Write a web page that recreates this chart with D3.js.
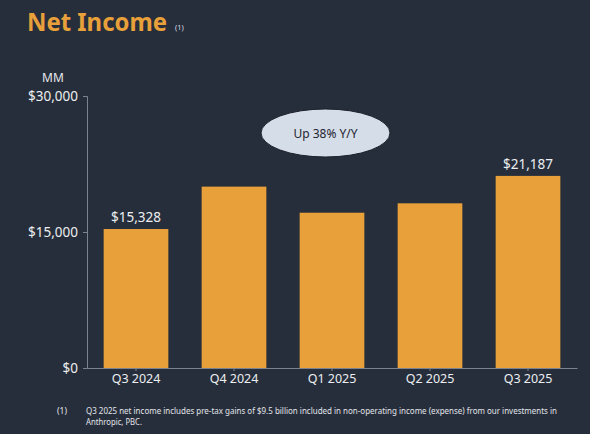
<!DOCTYPE html>
<html><head><meta charset="utf-8">
<script src="https://cdn.jsdelivr.net/npm/d3@7"></script>
<style>html,body{margin:0;padding:0;background:#272e3b;}svg{display:block;}</style>
</head><body>
<script>
const categories = ["Q3 2024","Q4 2024","Q1 2025","Q2 2025","Q3 2025"];
const values = [15328, 20004, 17127, 18164, 21187];
const labeled = [true, false, false, false, true];
const yTicks = [0, 15000, 30000];

const W = 590, H = 434;
const svg = d3.select("body").append("svg").attr("width", W).attr("height", H);
svg.append("rect").attr("width", W).attr("height", H).attr("fill", "#272e3b");
const font = "'Noto Sans', 'Open Sans', sans-serif";

const x = d3.scaleBand().domain(categories).range([87, 577]).paddingInner(0.34).paddingOuter(0.17);
const y = d3.scaleLinear().domain([0, 30000]).range([368, 96]);

// title
svg.append("text").attr("x", 27).attr("y", 31).attr("font-family", font)
  .attr("font-weight", 700).attr("font-size", 25).attr("fill", "#e8a03a")
  .attr("textLength", 140).attr("lengthAdjust", "spacingAndGlyphs").text("Net Income");
svg.append("text").attr("x", 175).attr("y", 30).attr("font-family", font)
  .attr("font-size", 7.5).attr("fill", "#d8dce3").text("(1)");

// MM
svg.append("text").attr("x", 53).attr("y", 82).attr("text-anchor", "middle").attr("font-family", font)
  .attr("font-size", 12).attr("fill", "#e6e8ec").text("MM");

// y axis
const yAxis = svg.append("g").attr("transform", "translate(87,0)")
  .call(d3.axisLeft(y).tickValues(yTicks).tickSize(4).tickPadding(5).tickFormat(d => "$" + d3.format(",")(d)));
yAxis.select(".domain").attr("stroke", "#7d838e");
yAxis.selectAll(".tick line").attr("stroke", "#7d838e");
yAxis.selectAll(".tick text").attr("fill", "#eceef1").attr("font-family", font).attr("font-size", 13.5);

// bars
svg.selectAll(".bar").data(categories).enter().append("rect")
  .attr("x", d => x(d)).attr("width", x.bandwidth())
  .attr("y", (d, i) => y(values[i])).attr("height", (d, i) => y(0) - y(values[i]))
  .attr("fill", "#e8a03a");

// bar labels
svg.selectAll(".lbl").data(categories.filter((d, i) => labeled[i])).enter().append("text")
  .attr("x", d => x(d) + x.bandwidth() / 2)
  .attr("y", d => y(values[categories.indexOf(d)]) - 7)
  .attr("text-anchor", "middle").attr("font-family", font).attr("font-size", 13.5)
  .attr("fill", "#eceef1").text(d => "$" + d3.format(",")(values[categories.indexOf(d)]));

// x axis
const xAxis = svg.append("g").attr("transform", "translate(0,368)")
  .call(d3.axisBottom(x).tickSize(3).tickSizeOuter(0).tickPadding(3));
xAxis.select(".domain").attr("stroke", "#7d838e");
xAxis.selectAll(".tick line").attr("stroke", "#7d838e");
xAxis.selectAll(".tick text").attr("fill", "#eceef1").attr("font-family", font).attr("font-size", 12.5);

// callout ellipse
svg.append("ellipse").attr("cx", 325.5).attr("cy", 133).attr("rx", 64.5).attr("ry", 24)
  .attr("fill", "#d5dde9").attr("stroke", "#1a1f28").attr("stroke-width", 1);
svg.append("text").attr("x", 325.5).attr("y", 137.5).attr("text-anchor", "middle").attr("font-family", font)
  .attr("font-size", 12).attr("fill", "#1f2430").text("Up 38% Y/Y");

// footnote
svg.append("text").attr("x", 57).attr("y", 414).attr("font-family", font).attr("font-size", 8.5)
  .attr("fill", "#e2e5ea").text("(1)");
const fn = svg.append("text").attr("font-family", font).attr("font-size", 8.5).attr("fill", "#e2e5ea");
fn.append("tspan").attr("x", 86).attr("y", 414)
  .attr("textLength", 471).attr("lengthAdjust", "spacingAndGlyphs")
  .text("Q3 2025 net income includes pre-tax gains of $9.5 billion included in non-operating income (expense) from our investments in");
fn.append("tspan").attr("x", 86).attr("y", 425).attr("textLength", 56).attr("lengthAdjust", "spacingAndGlyphs")
  .text("Anthropic, PBC.");
</script>
</body></html>
